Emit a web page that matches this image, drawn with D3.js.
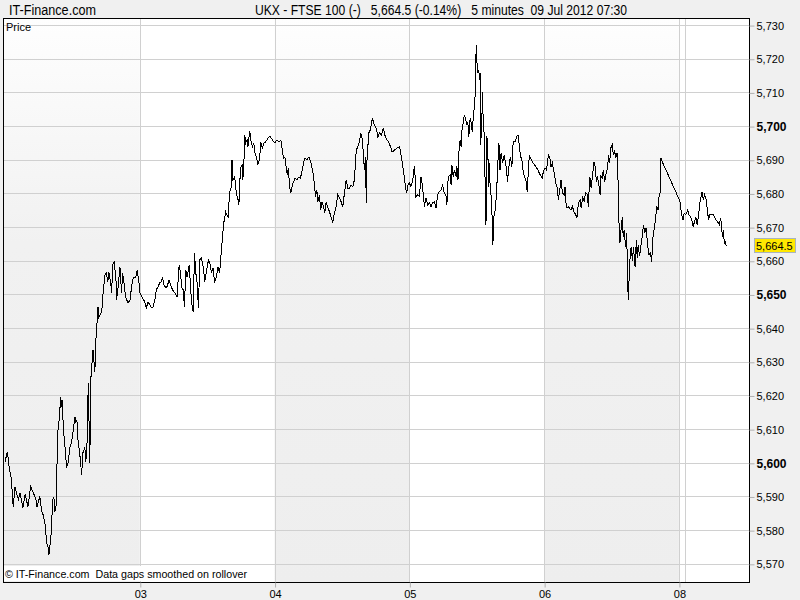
<!DOCTYPE html>
<html>
<head>
<meta charset="utf-8">
<script src="https://cdn.jsdelivr.net/npm/d3@7"></script>
<style>
  body { margin: 0; background: #f0f0f0; }
  svg { display: block; font-family: "Liberation Sans", Arial, sans-serif; }
</style>
</head>
<body>
<svg id="chart" width="800" height="600"></svg>
<script>
const days = ["02", "03", "04", "05", "06", "08"];
const greyDays = [0, 2, 4];
const extraGrid = [5.045];
const yTicks = d3.range(5570, 5731, 10);
const boldTicks = [5600, 5650, 5700];
const lastPrice = 5664.5;
const SESSION_MIN = 510;

// [minutes after session open, price]
const jul02 = [
  [0, 5600.3], [9, 5603.3], [16, 5598.6], [23, 5595.6], [29, 5589.7], [31, 5587], [38, 5592.9],
  [45, 5590.6], [51, 5589.1], [57, 5591.1], [68, 5586.7], [76, 5590.6], [87, 5587], [97, 5592.9],
  [106, 5591.4], [117, 5589.1], [121, 5587], [132, 5590], [139, 5585.5], [144, 5584.6], [151, 5582.2],
  [158, 5576.3], [163, 5574.8], [166, 5572.7], [173, 5577.2], [177, 5582.2], [180, 5589.1], [185, 5589.7],
  [189, 5585.5], [193, 5587], [195, 5595], [201, 5610.7], [205, 5612.8], [211, 5619.6], [214, 5616.7],
  [218, 5618.7], [220, 5610.7], [227, 5604.8], [233, 5598.6], [239, 5600], [246, 5604.8], [252, 5606],
  [257, 5609], [265, 5613.7], [268, 5611.9], [272, 5612.8], [276, 5606.9], [284, 5601.8], [290, 5596.5],
  [295, 5603], [302, 5604.5], [306, 5600.3], [311, 5606.9], [315, 5623.8], [321, 5600], [324, 5624.1],
  [333, 5633.6], [340, 5627], [344, 5636.5], [352, 5646.3], [355, 5643.1], [366, 5644.8], [370, 5649.3],
  [378, 5655.8], [384, 5656.4], [389, 5653.7], [393, 5656.7], [400, 5653.5], [403, 5650.5], [409, 5659.4],
  [413, 5659.7], [420, 5654.3], [422, 5648.4], [428, 5652.3], [435, 5658.2], [441, 5650.5], [445, 5656.4],
  [450, 5653.5], [457, 5649], [466, 5647.5], [473, 5648.4], [479, 5652.3], [485, 5654.9], [495, 5655.2],
  [500, 5657.3], [508, 5652.9]
];
const jul03 = [
  [0, 5650.5], [10, 5649], [19, 5647.8], [25, 5646], [31, 5647.8], [38, 5646.9], [44, 5646], [50, 5646.3],
  [57, 5648.4], [63, 5651.4], [69, 5652.3], [76, 5653.5], [82, 5653.8], [86, 5655.2], [91, 5652.9],
  [98, 5652], [103, 5652.3], [111, 5654.3], [116, 5652.9], [124, 5651.4], [132, 5650.5], [141, 5649.3],
  [149, 5658.8], [154, 5656.4], [159, 5652], [164, 5651.4], [169, 5646.3], [174, 5657.3], [179, 5655.2],
  [187, 5658.8], [192, 5652.3], [196, 5647.5], [202, 5644.8], [207, 5662.4], [212, 5656.4], [217, 5653.5],
  [222, 5646], [227, 5660.3], [233, 5660.9], [240, 5658.2], [246, 5653.8], [252, 5656.7], [260, 5660.3],
  [265, 5659.4], [271, 5656.4], [277, 5657.9], [283, 5653.5], [290, 5655.2], [296, 5658.2], [302, 5656.4],
  [308, 5662.4], [312, 5666.2], [318, 5671.3], [325, 5674.5], [334, 5673], [340, 5680.2], [346, 5681.9],
  [349, 5690], [352, 5684], [359, 5684.9], [365, 5680.2], [372, 5678.1], [375, 5676.6], [381, 5687.6],
  [388, 5688.5], [390, 5684], [394, 5689.1], [397, 5697.4], [401, 5695], [406, 5695.9], [409, 5693.8],
  [416, 5698.6], [420, 5695.9], [426, 5693.8], [431, 5695], [436, 5692], [441, 5690.8], [447, 5688.5],
  [454, 5690.5], [457, 5695.3], [464, 5693.5], [470, 5695], [476, 5695.3], [481, 5695.9], [489, 5696.8],
  [494, 5696.8], [502, 5695.9], [507, 5695.3]
];
const jul04 = [
  [1, 5695], [9, 5695.9], [16, 5695.3], [24, 5695.9], [29, 5692.9], [34, 5690.5], [39, 5690.8],
  [44, 5687.6], [48, 5685.5], [52, 5687.6], [57, 5681.9], [62, 5680.2], [67, 5682.5], [72, 5683.4],
  [78, 5684.6], [84, 5684], [92, 5684.9], [98, 5684.6], [105, 5687], [110, 5689.4], [115, 5690.5],
  [122, 5690], [130, 5690.8], [137, 5689.4], [145, 5686.4], [151, 5682.5], [155, 5679], [160, 5681],
  [164, 5677.5], [170, 5679.6], [174, 5675.1], [180, 5677.5], [185, 5676], [190, 5674.2], [195, 5677.5],
  [201, 5676], [208, 5674.5], [214, 5673], [220, 5671.3], [226, 5674.2], [233, 5676], [239, 5679.6],
  [246, 5678.7], [252, 5677.5], [258, 5676], [265, 5680.5], [271, 5684], [277, 5681.6], [284, 5681.6],
  [290, 5682.5], [296, 5681.9], [302, 5684], [309, 5692.9], [315, 5693.8], [321, 5695.3], [326, 5698],
  [331, 5696.5], [336, 5692], [340, 5687], [344, 5690.8], [347, 5677.2], [350, 5690.8], [357, 5698],
  [362, 5698.8], [370, 5702.4], [377, 5700.3], [385, 5699.4], [391, 5696.8], [397, 5698], [404, 5697.4],
  [412, 5699.4], [417, 5697.4], [425, 5695.9], [432, 5695.3], [439, 5693.8], [445, 5692.3], [454, 5692.9],
  [463, 5693.5], [473, 5693.8], [480, 5690.8], [486, 5687.6], [491, 5684.9], [496, 5681.3], [500, 5680.2],
  [504, 5682.5]
];
const jul05 = [
  [0, 5683.1], [6, 5682], [12, 5683.5], [19, 5688], [23, 5684], [25, 5679.1], [31, 5679.6], [38, 5679.1],
  [44, 5685], [50, 5682], [57, 5676.1], [63, 5678.7], [69, 5676.6], [76, 5677.2], [82, 5676.1],
  [88, 5677.2], [95, 5677.6], [101, 5675.7], [107, 5679.6], [113, 5680.5], [120, 5681], [126, 5682.5],
  [132, 5680.2], [139, 5679.1], [142, 5676.6], [147, 5685], [154, 5685.5], [158, 5682.5], [161, 5688.5],
  [166, 5685], [171, 5687], [177, 5685], [180, 5688], [184, 5684], [187, 5692], [192, 5695.9],
  [196, 5693.9], [199, 5698.8], [204, 5700.9], [208, 5703.3], [212, 5702.4], [217, 5700.3], [221, 5701.3],
  [225, 5696.9], [230, 5702.4], [234, 5700.9], [238, 5698.3], [242, 5702.8], [248, 5706.9], [250, 5713.7],
  [253, 5724.1], [255, 5719.6], [259, 5715.8], [263, 5716.6], [265, 5713.7], [268, 5715.8], [270, 5694.4],
  [274, 5700.9], [277, 5710.2], [280, 5698.8], [284, 5698], [287, 5681], [290, 5670.7], [292, 5696.9],
  [296, 5695.9], [300, 5682], [303, 5689.1], [306, 5681], [310, 5679.1], [314, 5671.3], [316, 5664.7],
  [320, 5673.1], [325, 5675.1], [330, 5680.2], [335, 5689.1], [339, 5695], [343, 5687], [347, 5692],
  [353, 5689.1], [359, 5691.4], [366, 5688], [372, 5683.5], [375, 5687], [382, 5690.9], [388, 5688],
  [393, 5695.4], [401, 5695.4], [406, 5696.9], [411, 5697.4], [416, 5694.4], [420, 5691.4], [427, 5689.4],
  [431, 5686.1], [436, 5685], [442, 5683.5], [446, 5680.5], [450, 5686.1], [454, 5691.4], [461, 5690],
  [467, 5689.1], [477, 5688.2], [486, 5687], [495, 5685.5], [503, 5684.6], [507, 5686.5]
];
const jul06 = [
  [3, 5687.6], [9, 5687], [16, 5691.4], [22, 5690.5], [26, 5688], [31, 5689.1], [38, 5686.1], [44, 5683.1],
  [50, 5681.6], [54, 5678.1], [59, 5681], [64, 5684], [69, 5680.2], [76, 5679.6], [79, 5682], [84, 5675.7],
  [92, 5676.1], [101, 5675.1], [107, 5676.1], [113, 5674.6], [120, 5673.6], [124, 5672.7], [130, 5677.2],
  [136, 5678.1], [140, 5675.7], [146, 5679.1], [151, 5677.6], [157, 5680.2], [164, 5679.6], [167, 5676.1],
  [173, 5685], [178, 5681.6], [184, 5686.1], [189, 5689.4], [193, 5688], [198, 5683.5], [202, 5685],
  [208, 5682], [212, 5679.6], [215, 5685], [220, 5684.6], [224, 5687], [229, 5683.5], [235, 5686.1],
  [241, 5688], [243, 5691.4], [248, 5689.1], [252, 5693.5], [258, 5694.4], [262, 5691.4], [266, 5692.9],
  [271, 5690.5], [276, 5692], [280, 5683.1], [284, 5669.2], [287, 5665.3], [291, 5669.2], [296, 5673.1],
  [299, 5667.2], [303, 5669.2], [308, 5664.2], [312, 5668.3], [316, 5656.4], [318, 5648.4], [322, 5655.3],
  [326, 5662.4], [330, 5664.2], [334, 5659.8], [338, 5664.2], [344, 5658.3], [349, 5666.2], [352, 5660.9],
  [356, 5664.7], [361, 5661.3], [366, 5664.2], [371, 5667.2], [376, 5670.7], [381, 5668.3], [386, 5669.8],
  [392, 5664.2], [397, 5661.8], [402, 5662.4], [407, 5659.8], [412, 5667.2], [417, 5669.8], [422, 5672.7],
  [426, 5676.1], [431, 5675.1], [435, 5679.1], [439, 5680.2], [442, 5690.5], [447, 5689.4]
];
const jul08 = [
  [0, 5678.4], [4, 5677.6], [10, 5673.6], [16, 5672.1], [20, 5674.2], [26, 5673.6], [33, 5675.1],
  [38, 5673.6], [44, 5673.1], [49, 5672.1], [54, 5670.2], [59, 5671.6], [64, 5673.1], [69, 5670.7],
  [74, 5673.1], [79, 5677.2], [84, 5679.1], [88, 5680.5], [92, 5678.1], [97, 5679.6], [102, 5678.7],
  [107, 5675.7], [112, 5672.1], [117, 5673.6], [123, 5673.6], [130, 5673.6], [135, 5673.1], [140, 5672.1],
  [146, 5671.6], [153, 5670.7], [158, 5672.7], [162, 5670.2], [164, 5667.2], [168, 5669.2], [172, 5665.3],
  [175, 5665.7], [179, 5664.5]
];
const sessions = [jul02, jul03, jul04, jul05, jul06, jul08];

const points = sessions.flatMap((s, i) =>
  s.map(([m, p]) => ({ t: i + m / SESSION_MIN, p: p }))
);

const plot = { left: 3, top: 18, right: 749, bottom: 582 };

const svg = d3.select("#chart");

const x = d3.scaleLinear().domain([0, 5.52]).range([plot.left + 2, plot.right]);
const y = d3.scaleLinear().domain([5564.6, 5732.1]).range([plot.bottom, plot.top]);

const defs = svg.append("defs");
const grad = defs
  .append("linearGradient")
  .attr("id", "band")
  .attr("x1", 0).attr("y1", 0).attr("x2", 0).attr("y2", 1);
grad.append("stop").attr("offset", "0%").attr("stop-color", "#fefefe");
grad.append("stop").attr("offset", "40%").attr("stop-color", "#f1f1f1");
grad.append("stop").attr("offset", "100%").attr("stop-color", "#eeeeee");

defs
  .append("clipPath")
  .attr("id", "clip")
  .append("rect")
  .attr("x", plot.left)
  .attr("y", plot.top)
  .attr("width", plot.right - plot.left)
  .attr("height", plot.bottom - plot.top);

// plot background, alternating day bands
svg
  .append("rect")
  .attr("x", plot.left)
  .attr("y", plot.top)
  .attr("width", plot.right - plot.left)
  .attr("height", plot.bottom - plot.top)
  .attr("fill", "#ffffff");

svg
  .append("g")
  .selectAll("rect")
  .data(greyDays)
  .join("rect")
  .attr("x", (i) => (i === 0 ? plot.left : x(i)))
  .attr("y", plot.top)
  .attr("width", (i) => x(i + 1) - (i === 0 ? plot.left : x(i)))
  .attr("height", plot.bottom - plot.top)
  .attr("fill", "url(#band)");

// grid
const grid = svg.append("g").attr("stroke", "#d0d0d0").attr("shape-rendering", "crispEdges");
grid
  .selectAll(".h")
  .data(yTicks)
  .join("line")
  .attr("x1", plot.left)
  .attr("x2", plot.right)
  .attr("y1", (d) => Math.round(y(d)) + 0.5)
  .attr("y2", (d) => Math.round(y(d)) + 0.5);
grid
  .selectAll(".v")
  .data(d3.range(1, days.length).concat(extraGrid))
  .join("line")
  .attr("x1", (d) => Math.round(x(d)) + 0.5)
  .attr("x2", (d) => Math.round(x(d)) + 0.5)
  .attr("y1", plot.top)
  .attr("y2", plot.bottom);

// footer note
svg
  .append("rect")
  .attr("x", plot.left + 1)
  .attr("y", 566)
  .attr("width", 246)
  .attr("height", 15)
  .attr("fill", "#ffffff");
svg
  .append("text")
  .attr("x", 5)
  .attr("y", 578)
  .style("font-size", "11px")
  .style("white-space", "pre")
  .attr("textLength", 242)
  .attr("lengthAdjust", "spacingAndGlyphs")
  .text("\u00a9 IT-Finance.com  Data gaps smoothed on rollover");

// price line
const line = d3
  .line()
  .x((d) => x(d.t))
  .y((d) => y(d.p));
svg
  .append("path")
  .attr("clip-path", "url(#clip)")
  .attr("d", line(points))
  .attr("fill", "none")
  .attr("stroke", "#000000")
  .attr("stroke-width", 1)
  .attr("shape-rendering", "crispEdges");

// frame
svg
  .append("rect")
  .attr("x", plot.left + 0.5)
  .attr("y", plot.top + 0.5)
  .attr("width", plot.right - plot.left)
  .attr("height", plot.bottom - plot.top)
  .attr("fill", "none")
  .attr("stroke", "#000000");

svg
  .append("text")
  .attr("x", 6)
  .attr("y", 31)
  .style("font-size", "11px")
  .text("Price");

// right axis
const yaxis = d3
  .axisRight(y)
  .tickValues(yTicks)
  .tickSize(5)
  .tickPadding(2)
  .tickFormat(d3.format(","));
const yaxisGroup = svg
  .append("g")
  .attr("transform", `translate(${plot.right + 0.5}, 0.5)`)
  .call(yaxis);
yaxisGroup.select(".domain").remove();
yaxisGroup.selectAll(".tick line").attr("stroke", "#b0b0b0");
yaxisGroup
  .selectAll(".tick text")
  .attr("fill", "#000")
  .style("font-family", "'Liberation Sans', Arial, sans-serif")
  .attr("font-weight", (d) => (boldTicks.includes(d) ? "bold" : "normal"))
  .style("font-size", (d) => (boldTicks.includes(d) ? "12px" : "11px"));

// bottom axis
const xaxis = d3
  .axisBottom(x)
  .tickValues(d3.range(1, days.length))
  .tickSize(5)
  .tickPadding(3)
  .tickFormat((i) => days[i]);
const xaxisGroup = svg
  .append("g")
  .attr("transform", `translate(0.5, ${plot.bottom + 0.5})`)
  .call(xaxis);
xaxisGroup.select(".domain").remove();
xaxisGroup.selectAll(".tick line").attr("stroke", "#b0b0b0");
xaxisGroup
  .selectAll(".tick text")
  .attr("fill", "#000")
  .style("font-size", "11px")
  .style("font-family", "'Liberation Sans', Arial, sans-serif");

// last price marker
const ly = y(lastPrice);
svg
  .append("rect")
  .attr("x", 754.5)
  .attr("y", Math.round(ly) - 7.5)
  .attr("width", 41)
  .attr("height", 14)
  .attr("fill", "#ffe800")
  .attr("stroke", "#a8b4c0");
svg
  .append("text")
  .attr("x", 756)
  .attr("y", ly + 4)
  .style("font-size", "11px")
  .text(d3.format(",.1f")(lastPrice));

// header
svg
  .append("text")
  .attr("x", 9)
  .attr("y", 15)
  .style("font-family", "'Liberation Sans Narrow', 'Liberation Sans', Arial, sans-serif")
  .style("font-size", "14px")
  .attr("textLength", 87)
  .attr("lengthAdjust", "spacingAndGlyphs")
  .text("IT-Finance.com");
svg
  .append("text")
  .attr("x", 255)
  .attr("y", 15)
  .style("font-family", "'Liberation Sans Narrow', 'Liberation Sans', Arial, sans-serif")
  .style("font-size", "14px")
  .attr("textLength", 372)
  .attr("lengthAdjust", "spacingAndGlyphs")
  .style("white-space", "pre")
  .text("UKX - FTSE 100 (-)   5,664.5 (-0.14%)   5 minutes  09 Jul 2012 07:30");
</script>
</body>
</html>
